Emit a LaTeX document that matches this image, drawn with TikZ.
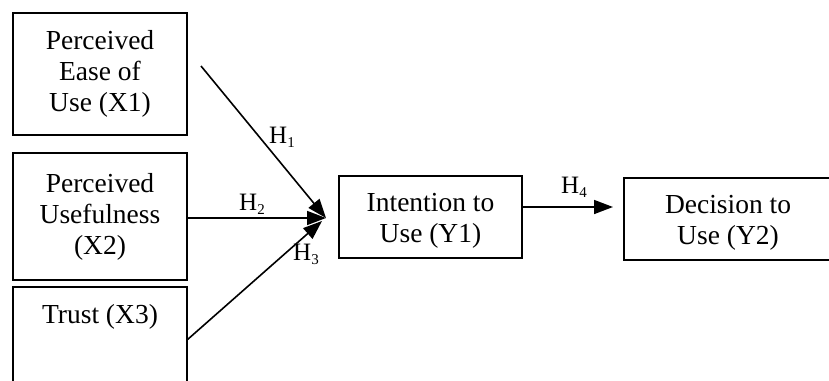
\documentclass[tikz,border=0pt]{standalone}
\usepackage{fontspec}
\setmainfont{Liberation Serif}
\usetikzlibrary{arrows.meta}
\newcommand\hlab[1]{H\raisebox{-0.35ex}{\fontsize{15}{15}\selectfont #1}}
\begin{document}
\begin{tikzpicture}[x=1pt,y=-1pt,
  box/.style={draw, line width=1.4pt, align=center, inner sep=0pt, font=\fontsize{27.5}{31}\selectfont},
  txt/.style={align=center, inner sep=0pt, font=\fontsize{27.5}{31}\selectfont},
  arr/.style={line width=1.6pt, -{Triangle[length=19pt,width=14pt]}},
  lab/.style={font=\fontsize{25}{25}\selectfont, inner sep=0pt}]
\useasboundingbox (0,0) rectangle (829,380);
\node[box, minimum width=174pt, minimum height=122pt] (x1) at (100,74) {Perceived\\Ease of\\Use (X1)};
\node[box, minimum width=174pt, minimum height=127pt] (x2) at (100,216.5) {Perceived\\Usefulness\\(X2)};
\node[box, minimum width=174pt, minimum height=132pt] (x3) at (100,353) {};
\node[txt] (x3t) at (100,317) {Trust (X3)};
\node[box, minimum width=183pt, minimum height=82pt] (y1) at (430.5,217) {};
\node[txt] (y1t) at (430.5,221) {Intention to\\Use (Y1)};
\node[box, minimum width=222pt, minimum height=82pt] (y2) at (735,219) {};
\node[txt] (y2t) at (728,223) {Decision to\\Use (Y2)};
\coordinate (c) at (326,218);
\coordinate (s1) at (201,66);
\coordinate (s3) at (187,340);
\coordinate (c3) at (322,221);
\coordinate (t4) at (613,207);
\draw[arr] (s1) -- (c);
\draw[arr] (x2.east |- c) -- (c);
\draw[arr] (s3) -- (c3);
\draw[arr] (y1.east |- t4) -- (t4);
\node[lab] (h1) at (282,137) {\hlab{1}};
\node[lab] (h2) at (252,204) {\hlab{2}};
\node[lab] (h3) at (306,254) {\hlab{3}};
\node[lab] (h4) at (574,187) {\hlab{4}};
\end{tikzpicture}
\end{document}
